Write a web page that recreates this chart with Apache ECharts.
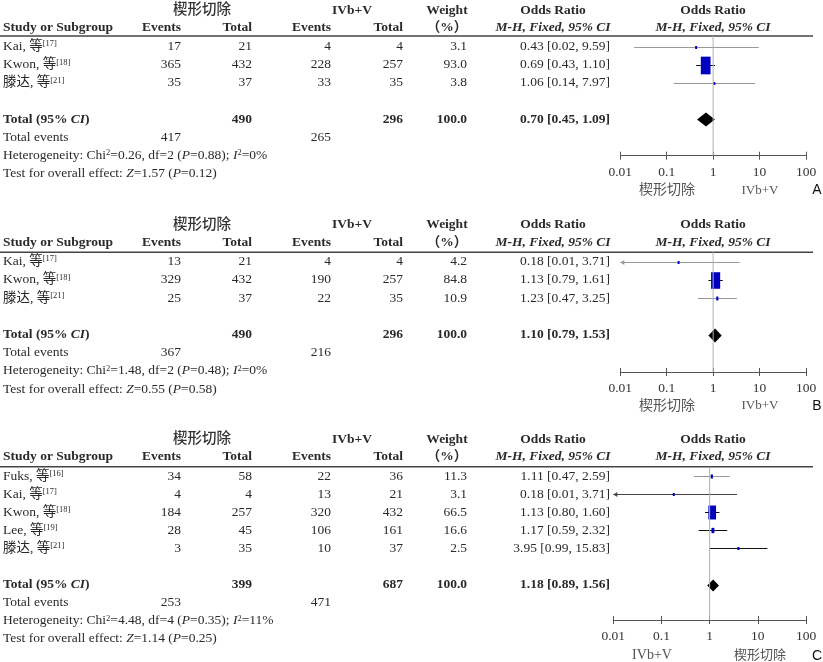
<!DOCTYPE html>
<html><head><meta charset="utf-8">
<script src="https://cdn.jsdelivr.net/npm/echarts@6/dist/echarts.min.js"></script>
<style>html,body{margin:0;padding:0;background:#fff}#c{width:823px;height:662px}</style>
</head><body><div id="c"></div><script>
// ================= DATA =================
const groupNames = ['楔形切除', 'IVb+V'];
const tickLabels = ['0.01', '0.1', '1', '10', '100'];

// Panel A
const namesA = ['Kai, 等', 'Kwon, 等', '滕达, 等'];
const refsA = ['[17]', '[18]', '[21]'];
const ev1A = [17, 365, 35];
const n1A = [21, 432, 37];
const ev2A = [4, 228, 33];
const n2A = [4, 257, 35];
const weightA = [3.1, 93.0, 3.8];
const orA = [0.43, 0.69, 1.06];
const loA = [0.02, 0.43, 0.14];
const hiA = [9.59, 1.10, 7.97];
const totalA = [0.70, 0.45, 1.09];      // OR, lower, upper
const sumsA = [490, 296, 417, 265];     // total n1, total n2, events1, events2
const hetA = ['0.26', '2', '0.88', '0%']; // Chi2, df, P, I2
const testA = ['1.57', '0.12'];           // Z, P
const favoursA = ['楔形切除', 'IVb+V'];

// Panel B
const namesB = ['Kai, 等', 'Kwon, 等', '滕达, 等'];
const refsB = ['[17]', '[18]', '[21]'];
const ev1B = [13, 329, 25];
const n1B = [21, 432, 37];
const ev2B = [4, 190, 22];
const n2B = [4, 257, 35];
const weightB = [4.2, 84.8, 10.9];
const orB = [0.18, 1.13, 1.23];
const loB = [0.01, 0.79, 0.47];
const hiB = [3.71, 1.61, 3.25];
const totalB = [1.10, 0.79, 1.53];
const sumsB = [490, 296, 367, 216];
const hetB = ['1.48', '2', '0.48', '0%'];
const testB = ['0.55', '0.58'];
const favoursB = ['楔形切除', 'IVb+V'];

// Panel C
const namesC = ['Fuks, 等', 'Kai, 等', 'Kwon, 等', 'Lee, 等', '滕达, 等'];
const refsC = ['[16]', '[17]', '[18]', '[19]', '[21]'];
const ev1C = [34, 4, 184, 28, 3];
const n1C = [58, 4, 257, 45, 35];
const ev2C = [22, 13, 320, 106, 10];
const n2C = [36, 21, 432, 161, 37];
const weightC = [11.3, 3.1, 66.5, 16.6, 2.5];
const orC = [1.11, 0.18, 1.13, 1.17, 3.95];
const loC = [0.47, 0.01, 0.80, 0.59, 0.99];
const hiC = [2.59, 3.71, 1.60, 2.32, 15.83];
const totalC = [1.18, 0.89, 1.56];
const sumsC = [399, 687, 253, 471];
const hetC = ['4.48', '4', '0.35', '11%'];
const testC = ['1.14', '0.25'];
const favoursC = ['IVb+V', '楔形切除'];

// ================= STYLE / LAYOUT =================
const toneA = ['#999', '#111', '#999'];
const toneB = ['#999', '#111', '#999'];
const toneC = ['#999', '#444', '#111', '#111', '#111'];

const FONT = "'Liberation Serif','Times New Roman','Noto Sans CJK SC',serif";
const SANS = "'Liberation Sans',Arial,sans-serif";
const TXT = '#2a2a2a';
const FS = 13.5;

const layouts = [
  { y0: 46.7, dy: 18.1, lineY: 36, axisY: 155.7, axL: 620.3, axR: 806, dh: 7, fav: [667, 760], letter: 'A' },
  { y0: 261.7, dy: 18.2, lineY: 252.3, axisY: 372, axL: 620.3, axR: 806, dh: 7, fav: [667, 760], letter: 'B' },
  { y0: 476, dy: 18.1, lineY: 466.7, axisY: 620, axL: 613.3, axR: 806, dh: 6, fav: [652, 760], letter: 'C' }
];
const colX = { name: 3, e1: 181, n1: 252, e2: 331, n2: 403, w: 467, or: 610, g1: 202, g2: 352, wt: 447, orh: 553, fp: 713, letter: 817 };

const panels = [
  { names: namesA, refs: refsA, ev1: ev1A, n1: n1A, ev2: ev2A, n2: n2A, w: weightA, or: orA, lo: loA, hi: hiA, total: totalA, sums: sumsA, het: hetA, test: testA, fav: favoursA, tone: toneA },
  { names: namesB, refs: refsB, ev1: ev1B, n1: n1B, ev2: ev2B, n2: n2B, w: weightB, or: orB, lo: loB, hi: hiB, total: totalB, sums: sumsB, het: hetB, test: testB, fav: favoursB, tone: toneB },
  { names: namesC, refs: refsC, ev1: ev1C, n1: n1C, ev2: ev2C, n2: n2C, w: weightC, or: orC, lo: loC, hi: hiC, total: totalC, sums: sumsC, het: hetC, test: testC, fav: favoursC, tone: toneC }
];

const W = 823, H = 662;
const f2 = v => v.toFixed(2);
const orText = (o, l, h) => `${f2(o)} [${f2(l)}, ${f2(h)}]`;

function T(x, r, text, o) {
  return Object.assign({ x, r, text, align: 'left', size: FS, weight: 'normal', fstyle: 'normal', color: TXT, family: FONT }, o || {});
}
function richFor(t) {
  const base = { fontFamily: t.family, fill: t.color };
  return {
    sup: Object.assign({}, base, { fontSize: 8.5, fontWeight: 'normal', fontStyle: 'normal', verticalAlign: 'top' }),
    i: Object.assign({}, base, { fontSize: t.size, fontWeight: t.weight, fontStyle: 'italic' }),
    bi: Object.assign({}, base, { fontSize: t.size, fontWeight: 'bold', fontStyle: 'italic' })
  };
}

const grids = [], xAxes = [], yAxes = [], series = [];

panels.forEach((p, pi) => {
  const L = layouts[pi];
  const k = p.names.length;
  const texts = [];
  // headers
  const rg = -2.02, rh = -1.06;
  texts.push(T(colX.g1, rg, groupNames[0], { align: 'center', weight: 500, size: 14.5, color: '#333' }));
  texts.push(T(colX.g2, rg, groupNames[1], { align: 'center', weight: 'bold' }));
  texts.push(T(colX.wt, rg, 'Weight', { align: 'center', weight: 'bold' }));
  texts.push(T(colX.orh, rg, 'Odds Ratio', { align: 'center', weight: 'bold' }));
  texts.push(T(colX.fp, rg, 'Odds Ratio', { align: 'center', weight: 'bold' }));
  texts.push(T(colX.name, rh, 'Study or Subgroup', { weight: 'bold' }));
  texts.push(T(colX.e1, rh, 'Events', { align: 'right', weight: 'bold' }));
  texts.push(T(colX.n1, rh, 'Total', { align: 'right', weight: 'bold' }));
  texts.push(T(colX.e2, rh, 'Events', { align: 'right', weight: 'bold' }));
  texts.push(T(colX.n2, rh, 'Total', { align: 'right', weight: 'bold' }));
  texts.push(T(colX.wt, rh, '（%）', { align: 'center', weight: 'bold' }));
  texts.push(T(colX.orh, rh, 'M-H, Fixed, 95% CI', { align: 'center', weight: 'bold', fstyle: 'italic' }));
  texts.push(T(colX.fp, rh, 'M-H, Fixed, 95% CI', { align: 'center', weight: 'bold', fstyle: 'italic' }));
  // study rows
  for (let i = 0; i < k; i++) {
    texts.push(T(colX.name, i, `${p.names[i]}{sup|${p.refs[i]}}`));
    texts.push(T(colX.e1, i, String(p.ev1[i]), { align: 'right' }));
    texts.push(T(colX.n1, i, String(p.n1[i]), { align: 'right' }));
    texts.push(T(colX.e2, i, String(p.ev2[i]), { align: 'right' }));
    texts.push(T(colX.n2, i, String(p.n2[i]), { align: 'right' }));
    texts.push(T(colX.w, i, p.w[i].toFixed(1), { align: 'right' }));
    texts.push(T(colX.or, i, orText(p.or[i], p.lo[i], p.hi[i]), { align: 'right' }));
  }
  const rt = k + 1;
  texts.push(T(colX.name, rt, 'Total (95% {bi|CI})', { weight: 'bold' }));
  texts.push(T(colX.n1, rt, String(p.sums[0]), { align: 'right', weight: 'bold' }));
  texts.push(T(colX.n2, rt, String(p.sums[1]), { align: 'right', weight: 'bold' }));
  const wsum = p.w.reduce((a, b) => a + b, 0);
  texts.push(T(colX.w, rt, (Math.abs(wsum - 100) < 1 ? 100 : wsum).toFixed(1), { align: 'right', weight: 'bold' }));
  texts.push(T(colX.or, rt, orText(p.total[0], p.total[1], p.total[2]), { align: 'right', weight: 'bold' }));
  texts.push(T(colX.name, rt + 1, 'Total events'));
  texts.push(T(colX.e1, rt + 1, String(p.sums[2]), { align: 'right' }));
  texts.push(T(colX.e2, rt + 1, String(p.sums[3]), { align: 'right' }));
  texts.push(T(colX.name, rt + 2, `Heterogeneity: Chi{sup|2}=${p.het[0]}, df=${p.het[1]} ({i|P}=${p.het[2]}); {i|I}{sup|2}=${p.het[3]}`));
  texts.push(T(colX.name, rt + 3, `Test for overall effect: {i|Z}=${p.test[0]} ({i|P}=${p.test[1]})`));
  const rf = rt + 3.93;
  texts.push(T(L.fav[0], rf, p.fav[0], { align: 'center', color: '#555', size: 14 }));
  texts.push(T(L.fav[1], rf, p.fav[1], { align: 'center', color: '#555', size: 13 }));
  texts.push(T(colX.letter, rf, L.letter, { align: 'center', color: '#111', size: 14, family: SANS }));

  const lineR = (L.lineY - L.y0) / L.dy;
  const axisR = (L.axisY - L.y0) / L.dy;

  // ---- table grid (full canvas, x in px, y in row units) ----
  const gT = grids.length;
  grids.push({ left: 0, top: 0, width: W, height: H, outerBoundsMode: 'none' });
  const xT = xAxes.length;
  xAxes.push({ gridIndex: gT, type: 'value', min: 0, max: W, show: false });
  const yT = yAxes.length;
  yAxes.push({ gridIndex: gT, type: 'value', min: -L.y0 / L.dy, max: (H - L.y0) / L.dy, inverse: true, show: false });

  series.push({
    type: 'custom', coordinateSystem: 'cartesian2d', xAxisIndex: xT, yAxisIndex: yT, silent: true,
    data: texts.map(t => [t.x, t.r]),
    renderItem: (params, api) => {
      const t = texts[params.dataIndex];
      const c = api.coord([t.x, t.r]);
      return {
        type: 'text', x: c[0], y: c[1],
        style: {
          text: t.text, fill: t.color, fontSize: t.size, fontFamily: t.family, fontWeight: t.weight, fontStyle: t.fstyle,
          align: t.align, verticalAlign: 'middle', rich: richFor(t)
        }
      };
    }
  });
  // header rule
  series.push({
    type: 'custom', coordinateSystem: 'cartesian2d', xAxisIndex: xT, yAxisIndex: yT, silent: true,
    data: [[0, lineR]],
    renderItem: (params, api) => {
      const a = api.coord([0, lineR]), b = api.coord([813, lineR]);
      return { type: 'line', shape: { x1: a[0], y1: a[1], x2: b[0], y2: b[1] }, style: { stroke: '#444', lineWidth: 1.5 } };
    }
  });

  // ---- forest grid ----
  const gF = grids.length;
  grids.push({ left: L.axL, top: L.lineY, width: L.axR - L.axL, height: L.axisY - L.lineY, outerBoundsMode: 'none' });
  const xF = xAxes.length;
  const logAxisBase = {
    gridIndex: gF, type: 'log', logBase: 10, min: 0.01, max: 100, splitNumber: 4, position: 'bottom',
    splitLine: { show: false }
  };
  xAxes.push(Object.assign({}, logAxisBase, {
    axisLine: { show: true, onZero: false, lineStyle: { color: '#555', width: 1 } },
    axisTick: { show: true, length: 4, lineStyle: { color: '#555', width: 1 } },
    axisLabel: {
      show: true, margin: 10, color: '#333', fontFamily: FONT, fontSize: FS,
      formatter: v => tickLabels[Math.round(Math.log10(v)) + 2]
    }
  }));
  xAxes.push(Object.assign({}, logAxisBase, {
    axisLine: { show: false, onZero: false },
    axisTick: { show: true, inside: true, length: 4, lineStyle: { color: '#555', width: 1 } },
    axisLabel: { show: false }
  }));
  const yF = yAxes.length;
  yAxes.push({ gridIndex: gF, type: 'value', min: lineR, max: axisR, inverse: true, show: false });

  // line of no effect
  series.push({
    type: 'line', xAxisIndex: xF, yAxisIndex: yF, silent: true, symbol: 'none',
    data: [[1, lineR], [1, axisR]],
    lineStyle: { color: '#b0b0b0', width: 1 }
  });

  const rows = [];
  for (let i = 0; i < k; i++) rows.push({ or: p.or[i], lo: p.lo[i], hi: p.hi[i], r: i, w: p.w[i], tone: p.tone[i], total: false });
  rows.push({ or: p.total[0], lo: p.total[1], hi: p.total[2], r: rt, w: 100, total: true });

  series.push({
    type: 'custom', coordinateSystem: 'cartesian2d', xAxisIndex: xF, yAxisIndex: yF, silent: true,
    data: rows.map(d => [d.or, d.lo, d.hi, d.r]),
    encode: { x: [0, 1, 2], y: 3 },
    renderItem: (params, api) => {
      const d = rows[params.dataIndex];
      const c = api.coord([d.or, d.r]);
      const cl = api.coord([Math.max(d.lo, 0.01), d.r]);
      const ch = api.coord([Math.min(d.hi, 100), d.r]);
      const y = Math.round(c[1]) + 0.5;
      const ch_ = [];
      if (d.total) {
        const hh = L.dh;
        ch_.push({ type: 'polygon', shape: { points: [[cl[0], y], [c[0], y - hh], [ch[0], y], [c[0], y + hh]] }, style: { fill: '#000' } });
      } else {
        ch_.push({ type: 'line', shape: { x1: cl[0], y1: y, x2: ch[0], y2: y }, style: { stroke: d.tone, lineWidth: 1 } });
        if (d.lo <= 0.01) {
          ch_.push({ type: 'polygon', shape: { points: [[cl[0], y], [cl[0] + 4, y - 2.5], [cl[0] + 4, y + 2.5]] }, style: { fill: d.tone } });
        }
        const h = Math.max(3, 18.6 * Math.pow(d.w / 100, 0.7));
        const w = Math.max(2, h * 0.55);
        ch_.push({ type: 'rect', shape: { x: c[0] - w / 2, y: y - h / 2, width: w, height: h }, style: { fill: '#0000c0' } });
      }
      return { type: 'group', children: ch_ };
    }
  });
});

const chart = echarts.init(document.getElementById('c'), null, { renderer: 'canvas' });
chart.setOption({
  animation: false,
  backgroundColor: '#fff',
  grid: grids,
  xAxis: xAxes,
  yAxis: yAxes,
  series: series
});
</script></body></html>
